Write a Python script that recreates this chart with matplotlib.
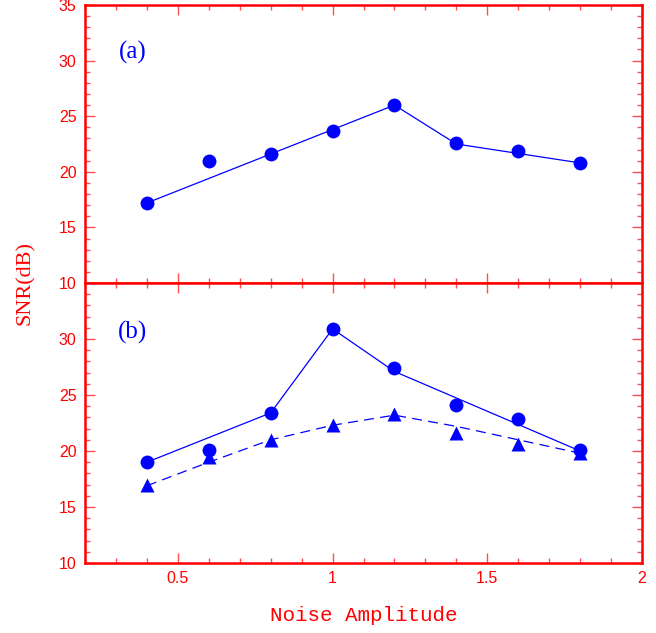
import numpy as np
import matplotlib
matplotlib.use("Agg")
from matplotlib import pyplot as plt
from matplotlib.ticker import MultipleLocator, FormatStrFormatter

# 数据
noise = [0.4, 0.6, 0.8, 1.0, 1.2, 1.4, 1.6, 1.8]

# (a)
snr_a = [17.2, 21.0, 21.6, 23.7, 26.0, 22.6, 21.9, 20.8]
fit_a_x = [0.4, 1.2, 1.4, 1.8]
fit_a_y = [17.2, 26.0, 22.5, 20.8]

# (b)
snr_b_circ = [19.0, 20.1, 23.4, 30.9, 27.4, 24.1, 22.9, 20.1]
snr_b_tri = [17.0, 19.5, 21.0, 22.3, 23.3, 21.6, 20.6, 19.85]
fit_b_x = [0.4, 0.8, 1.0, 1.2, 1.8]
fit_b_y = [19.0, 23.4, 30.9, 27.1, 20.0]
fit_b2_x = [0.4, 0.6, 0.8, 1.0, 1.2, 1.4, 1.6, 1.8]
fit_b2_y = [16.9, 19.0, 21.0, 22.3, 23.2, 22.2, 21.0, 19.8]

red = '#ff0000'
blue = '#0000ff'

fig = plt.figure(figsize=(6.56, 6.33), dpi=100)
ax1 = fig.add_axes([0.1296, 0.5529, 0.8491, 0.4392])
ax2 = fig.add_axes([0.1296, 0.1106, 0.8491, 0.4423], sharex=ax1)


def style(ax):
    for s in ax.spines.values():
        s.set_color(red)
        s.set_linewidth(1.8)
    ax.set_xlim(0.2, 2.0)
    ax.set_ylim(10, 35)
    ax.xaxis.set_major_locator(MultipleLocator(0.5))
    ax.xaxis.set_minor_locator(MultipleLocator(0.1))
    ax.yaxis.set_major_locator(MultipleLocator(5))
    ax.yaxis.set_minor_locator(MultipleLocator(1))
    ax.tick_params(which='both', direction='in', top=True, right=True,
                   color='#ff5050', labelcolor=red, width=1.0, labelsize=11.5,
                   pad=6)
    ax.tick_params(which='major', length=7.5)
    ax.tick_params(which='minor', length=3.5)


style(ax1)
style(ax2)

ax1.plot(fit_a_x, fit_a_y, color=blue, lw=0.9)
ax1.plot(noise, snr_a, 'o', color=blue, ms=10, mec='none')
ax1.text(0.355, 30.7, '(a)', color=blue, fontsize=18, family='Liberation Serif',
         ha='center', va='center')
ax1.tick_params(labelbottom=False)

ax2.plot(fit_b_x, fit_b_y, color=blue, lw=0.9)
ax2.plot(fit_b2_x, fit_b2_y, color=blue, lw=0.9, dashes=(8, 5))
ax2.plot(noise, snr_b_circ, 'o', color=blue, ms=10, mec='none')
ax2.plot(noise, snr_b_tri, '^', color=blue, ms=10, mec='none')
ax2.text(0.355, 30.6, '(b)', color=blue, fontsize=18, family='Liberation Serif',
         ha='center', va='center')
ax2.set_yticks([10, 15, 20, 25, 30])
ax2.set_ylim(10, 35)
ax2.xaxis.set_major_formatter(FormatStrFormatter('%g'))

for ax in (ax1, ax2):
    for lab in ax.get_xticklabels() + ax.get_yticklabels():
        lab.set_family('Liberation Sans')

ax2.set_xlabel('Noise Amplitude', color=red, fontsize=15, family='Liberation Mono',
               labelpad=14)
fig.text(0.038, 1 - 283 / 633, 'SNR(dB)', color=red, fontsize=16,
         family='Liberation Serif', rotation=90, ha='center', va='center')

plt.savefig('out.png', dpi=100)
